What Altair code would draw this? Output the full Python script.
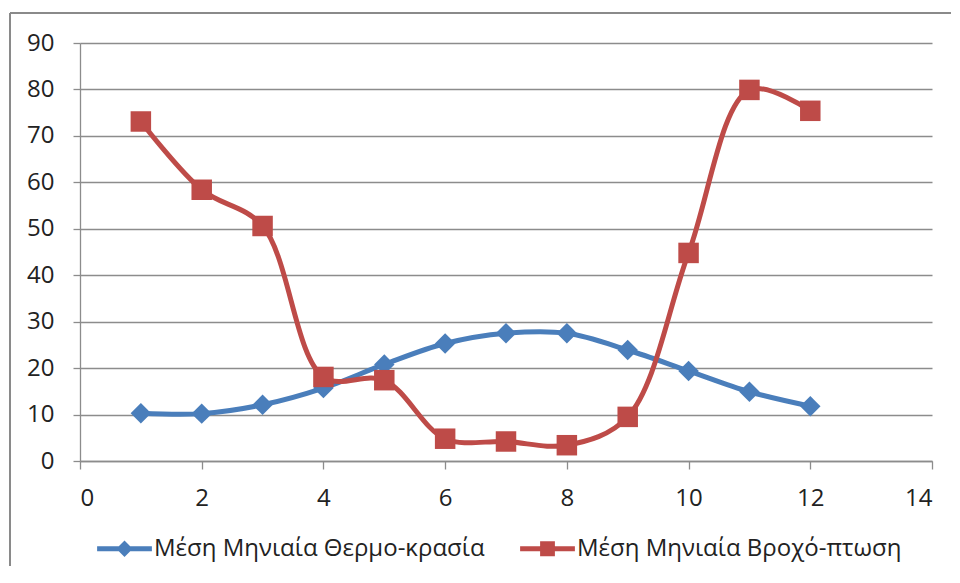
import altair as alt
import pandas as pd

months = [1, 2, 3, 4, 5, 6, 7, 8, 9, 10, 11, 12]
temperature = [10.3, 10.2, 12.1, 15.7, 20.8, 25.3, 27.5, 27.5, 23.9, 19.4, 14.9, 11.8]
rainfall = [73.1, 58.4, 50.6, 18.1, 17.4, 4.8, 4.2, 3.4, 9.5, 44.8, 79.9, 75.4]

series_names = ["Μέση Μηνιαία Θερμο-κρασία", "Μέση Μηνιαία Βροχό-πτωση"]
series_colors = ["#4a7ebb", "#be4b48"]
x_ticks = [0, 2, 4, 6, 8, 10, 12, 14]
y_ticks = [0, 10, 20, 30, 40, 50, 60, 70, 80, 90]

df = pd.DataFrame(
    {
        "month": months * 2,
        "value": temperature + rainfall,
        "series": [series_names[0]] * 12 + [series_names[1]] * 12,
    }
)

FONT = "Open Sans"
GRID = "#8c8c8c"
TXT = "#222222"
FS = 24

x_enc = alt.X(
    "month:Q",
    scale=alt.Scale(domain=[0, 14], nice=False),
    axis=alt.Axis(values=x_ticks, format="d", title=None, grid=False, tickSize=8,
                  labelPadding=17, labelFontSize=FS, labelFont=FONT,
                  labelColor=TXT, domainColor=GRID, tickColor=GRID,
                  domainWidth=1.3, tickWidth=1.3),
)
y_enc = alt.Y(
    "value:Q",
    scale=alt.Scale(domain=[0, 90], nice=False),
    axis=alt.Axis(values=y_ticks, format="d", title=None, grid=True, gridColor=GRID,
                  gridWidth=1.3, tickSize=7, labelPadding=19,
                  labelFontSize=FS, labelFont=FONT, labelColor=TXT,
                  domainColor=GRID, tickColor=GRID, domainWidth=1.3,
                  tickWidth=1.3),
)

layers = []
for name, col, shp in zip(series_names, series_colors, ["diamond", "square"]):
    base = alt.Chart(df).transform_filter(alt.datum.series == name)
    layers.append(base.mark_line(interpolate="catmull-rom", strokeWidth=5,
                                 color=col).encode(x=x_enc, y=y_enc))
    layers.append(base.mark_point(filled=True, shape=shp, size=420, opacity=1,
                                  color=col).encode(x="month:Q", y="value:Q"))

legend_paths = [
    "M-1,-0.095L1,-0.095L1,0.095L-1,0.095Z M0,-0.3L0.3,0L0,0.3L-0.3,0Z",
    "M-1,-0.095L1,-0.095L1,0.095L-1,0.095Z M-0.27,-0.27L0.27,-0.27L0.27,0.27L-0.27,0.27Z",
]

leg = alt.Legend(title=None, orient="none", legendX=17, legendY=478,
                 direction="horizontal", symbolSize=3000, symbolStrokeWidth=0,
                 labelFont=FONT, labelFontSize=FS, labelColor=TXT,
                 labelOffset=2, columnPadding=35, padding=0, labelLimit=600)

legend_layer = alt.Chart(df).mark_point(filled=True, opacity=1, size=0).encode(
    x="month:Q", y="value:Q",
    color=alt.Color("series:N",
                    scale=alt.Scale(domain=series_names, range=series_colors),
                    legend=leg),
    shape=alt.Shape("series:N",
                    scale=alt.Scale(domain=series_names, range=legend_paths),
                    legend=leg),
)

# chart-area frame (only its top and left edges are visible in the reference)
frame_top = alt.Chart(alt.Data(values=[{"a": 1}])).mark_rule(
    stroke="#8a8a8a", strokeWidth=2, clip=False
).encode(x=alt.value(-70), x2=alt.value(871), y=alt.value(-30), y2=alt.value(-30))
frame_left = alt.Chart(alt.Data(values=[{"a": 1}])).mark_rule(
    stroke="#8a8a8a", strokeWidth=2, clip=False
).encode(x=alt.value(-70), x2=alt.value(-70), y=alt.value(-30), y2=alt.value(523))

chart = alt.layer(frame_top, frame_left, *layers, legend_layer).properties(
    width=852, height=418,
    padding={"left": 72, "top": 35, "right": 20, "bottom": 105},
    autosize=alt.AutoSizeParams(type="none"),
    background="white",
).configure_view(stroke=None)

chart.save("out.html", embed_options={"renderer": "svg", "actions": False})
